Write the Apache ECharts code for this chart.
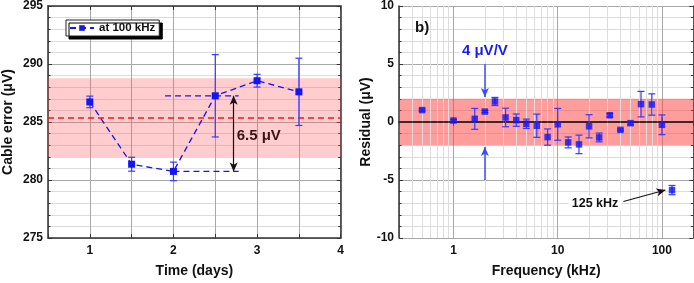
<!DOCTYPE html>
<html><head><meta charset="utf-8">
<script src="https://cdn.jsdelivr.net/npm/echarts@6/dist/echarts.min.js"></script>
<style>html,body{margin:0;padding:0;background:#fff}#c{width:694px;height:283px}</style>
</head><body><div id="c"></div>
<script>
// ---- Panel a: cable error vs time ----
const days = [1, 1.5, 2, 2.5, 3, 3.5];
const cableErr = [286.73, 281.36, 280.74, 287.26, 288.56, 287.6];
const cableErrBar = [0.5, 0.6, 0.8, 3.55, 0.55, 2.9];
const cableMean = 285.38;
const cableBand = [281.98, 288.78];
const upperRef = [[1.9, 287.26], [2.78, 287.26]];
const lowerRef = [[2.0, 280.74], [2.78, 280.74]];
const spanArrow = [[2.72, 287.26], [2.72, 280.74]];
const spanLabel = { text: '6.5 μV', at: [3.02, 283.8] };
const timeTicks = [1, 2, 3, 4];

// ---- Panel b: residual vs frequency ----
const freqKHz = [0.5, 1, 1.6, 2, 2.5, 3.16, 4, 5, 6.3, 8, 10, 12.6, 16, 20, 25, 31.6, 40, 50, 63, 80, 100, 125];
const residual = [1.03, 0.13, 0.27, 0.9, 1.77, 0.39, 0.16, -0.15, -0.32, -1.3, -0.2, -1.76, -1.93, -0.37, -1.33, 0.58, -0.68, -0.1, 1.54, 1.51, -0.24, -5.87];
const residualErr = [0.1, 0.08, 0.9, 0.1, 0.35, 0.8, 0.53, 0.4, 1.0, 0.7, 1.37, 0.47, 0.8, 1.0, 0.38, 0.15, 0.08, 0.15, 1.1, 0.92, 0.85, 0.4];
const residualBand = [-2, 2];
const minorFreqLines = [0.4, 0.5, 0.6, 0.7, 0.8, 0.9, 2, 3, 4, 5, 6, 7, 8, 9, 20, 30, 40, 50, 60, 70, 80, 90];
const bandArrowTop = [[2, 5], [2, 2.15]];
const bandArrowBottom = [[2, -5], [2, -2.15]];
const bandLabel = { text: '4 μV/V', at: [2, 6.1] };
const outlierArrow = [[42.7, -6.86], [108, -5.86]];
const outlierLabel = { text: '125 kHz', at: [22.8, -7.0] };
const panelLabel = { text: 'b)', at: [0.5, 8.1] };

const FONT = 'Liberation Sans, Arial, sans-serif';
const BLUE = '#1414f5';
const BLUE_ERR = '#3838ff';

function errSeries(name, xs, ys, es, xi, yi, color) {
  return {
    name: name, type: 'custom', xAxisIndex: xi, yAxisIndex: yi, z: 5,
    data: xs.map((x, i) => [x, ys[i] - es[i], ys[i] + es[i]]),
    encode: { x: 0, y: [1, 2] },
    renderItem: function (params, api) {
      const x = api.value(0);
      const p1 = api.coord([x, api.value(2)]);
      const p2 = api.coord([x, api.value(1)]);
      const w = 3.5;
      const st = { stroke: color, lineWidth: 1.2 };
      return { type: 'group', children: [
        { type: 'line', shape: { x1: p1[0], y1: p1[1], x2: p2[0], y2: p2[1] }, style: st },
        { type: 'line', shape: { x1: p1[0] - w, y1: p1[1], x2: p1[0] + w, y2: p1[1] }, style: st },
        { type: 'line', shape: { x1: p2[0] - w, y1: p2[1], x2: p2[0] + w, y2: p2[1] }, style: st }
      ] };
    }
  };
}

function textPoint(lbl, opts) {
  return {
    coord: lbl.at, symbol: 'rect', symbolSize: 1, itemStyle: { color: 'rgba(0,0,0,0)' },
    label: Object.assign({ show: true, position: 'inside', formatter: lbl.text, fontFamily: FONT, fontWeight: 'bold' }, opts)
  };
}

const axisLabelStyle = { fontFamily: FONT, fontWeight: 'bold', fontSize: 12, color: '#111' };
const nameStyle = { fontFamily: FONT, fontWeight: 'bold', fontSize: 14, color: '#111' };
const axisLineStyle = { show: true, lineStyle: { color: '#333', width: 1.5 } };

const chart = echarts.init(document.getElementById('c'));
chart.setOption({
  animation: false,
  backgroundColor: '#fff',
  grid: [
    { left: 47.7, top: 5, width: 293, height: 237 },
    { left: 399, top: 5, width: 294.3, height: 237 }
  ],
  legend: {
    data: ['at 100 kHz'], left: 66, top: 20, padding: [2, 4, 2, 3],
    backgroundColor: '#fff', borderColor: '#222', borderWidth: 1,
    shadowColor: '#000', shadowOffsetX: 3, shadowOffsetY: 3, shadowBlur: 0.01,
    itemWidth: 24, itemHeight: 7, itemGap: 4,
    textStyle: { fontFamily: FONT, fontWeight: 'bold', fontSize: 11.5, color: '#111' }
  },
  xAxis: [
    { gridIndex: 0, type: 'value', min: 0.5, max: 4, interval: 0.5,
      name: 'Time (days)', nameLocation: 'middle', nameGap: 26, nameTextStyle: nameStyle,
      axisLine: axisLineStyle, axisTick: { inside: true, length: 4, lineStyle: { color: '#333' } },
      axisLabel: Object.assign({ margin: 7, formatter: v => timeTicks.indexOf(v) >= 0 ? String(v) : '' }, axisLabelStyle),
      splitLine: { show: true, lineStyle: { color: '#a8a8a8', width: 1 } } },
    { gridIndex: 1, type: 'log', logBase: 10, min: 0.3, max: 200,
      name: 'Frequency (kHz)', nameLocation: 'middle', nameGap: 26, nameTextStyle: nameStyle,
      axisLine: axisLineStyle, axisTick: { inside: true, length: 4, lineStyle: { color: '#333' } },
      axisLabel: Object.assign({ margin: 7, showMinLabel: false, showMaxLabel: false }, axisLabelStyle),
      splitLine: { show: true, lineStyle: { color: '#a8a8a8', width: 1 } } },
    { gridIndex: 0, type: 'value', position: 'top', min: 0.5, max: 4, interval: 0.5,
      axisLine: axisLineStyle, axisTick: { inside: true, length: 4, lineStyle: { color: '#333' } },
      axisLabel: { show: false }, splitLine: { show: false } },
    { gridIndex: 1, type: 'log', position: 'top', min: 0.3, max: 200,
      axisLine: axisLineStyle, axisTick: { inside: true, length: 4, lineStyle: { color: '#333' } },
      axisLabel: { show: false }, splitLine: { show: false } }
  ],
  yAxis: [
    { gridIndex: 0, type: 'value', min: 275, max: 295, interval: 5,
      name: 'Cable error (μV)', nameLocation: 'middle', nameGap: 33, nameTextStyle: nameStyle,
      axisLine: axisLineStyle, axisTick: { inside: true, length: 4, lineStyle: { color: '#333' } },
      minorTick: { show: true, splitNumber: 5, length: 2.5, lineStyle: { color: '#333' } },
      minorSplitLine: { show: true, lineStyle: { color: '#dcdcdc', width: 1 } },
      axisLabel: Object.assign({ margin: 5 }, axisLabelStyle),
      splitLine: { show: true, lineStyle: { color: '#a8a8a8', width: 1 } } },
    { gridIndex: 1, type: 'value', min: -10, max: 10, interval: 5,
      name: 'Residual (μV)', nameLocation: 'middle', nameGap: 24, nameTextStyle: nameStyle,
      axisLine: axisLineStyle, axisTick: { inside: true, length: 4, lineStyle: { color: '#333' } },
      minorTick: { show: true, splitNumber: 5, length: 2.5, lineStyle: { color: '#333' } },
      minorSplitLine: { show: true, lineStyle: { color: '#dcdcdc', width: 1 } },
      axisLabel: Object.assign({ margin: 5 }, axisLabelStyle),
      splitLine: { show: true, lineStyle: { color: '#a8a8a8', width: 1 } } },
    { gridIndex: 0, type: 'value', position: 'right', min: 275, max: 295, interval: 5,
      axisLine: axisLineStyle, axisTick: { inside: true, length: 4, lineStyle: { color: '#333' } },
      minorTick: { show: true, splitNumber: 5, length: 2.5, lineStyle: { color: '#333' } },
      axisLabel: { show: false }, splitLine: { show: false } },
    { gridIndex: 1, type: 'value', position: 'right', min: -10, max: 10, interval: 5,
      axisLine: axisLineStyle, axisTick: { inside: true, length: 4, lineStyle: { color: '#333' } },
      minorTick: { show: true, splitNumber: 5, length: 2.5, lineStyle: { color: '#333' } },
      axisLabel: { show: false }, splitLine: { show: false } }
  ],
  series: [
    // --- panel a ---
    { name: 'band-a', type: 'line', xAxisIndex: 0, yAxisIndex: 0, data: [], z: 2, silent: true,
      markArea: { silent: true, itemStyle: { color: 'rgba(255,90,90,0.30)' },
        data: [[{ yAxis: cableBand[0] }, { yAxis: cableBand[1] }]] },
      markLine: { silent: true, symbol: 'none', label: { show: false },
        lineStyle: { color: '#f01818', type: [6, 4], width: 1.6 },
        data: [{ yAxis: cableMean }] } },
    { name: 'ref-up', type: 'line', xAxisIndex: 0, yAxisIndex: 0, data: upperRef, symbol: 'none', z: 3,
      lineStyle: { color: BLUE, type: [6, 4], width: 1.3 }, silent: true },
    { name: 'ref-low', type: 'line', xAxisIndex: 0, yAxisIndex: 0, data: lowerRef, symbol: 'none', z: 3,
      lineStyle: { color: BLUE, type: [6, 4], width: 1.3 }, silent: true },
    { name: 'span', type: 'line', xAxisIndex: 0, yAxisIndex: 0, data: [], z: 6,
      markLine: { silent: true, symbol: ['arrow', 'arrow'], symbolSize: [6, 9], label: { show: false },
        lineStyle: { color: '#1a1010', type: 'solid', width: 1.2 },
        data: [[{ coord: spanArrow[0] }, { coord: spanArrow[1] }]] },
      markPoint: { silent: true, data: [textPoint(spanLabel, { fontSize: 15, color: '#3a1414' })] } },
    errSeries('err-a', days, cableErr, cableErrBar, 0, 0, BLUE_ERR),
    { name: 'at 100 kHz', type: 'line', xAxisIndex: 0, yAxisIndex: 0, z: 7,
      data: days.map((d, i) => [d, cableErr[i]]),
      symbol: 'rect', symbolSize: 7, itemStyle: { color: BLUE },
      lineStyle: { color: BLUE, type: [6, 4], width: 1.3 } },
    // --- panel b ---
    { name: 'minor-b', type: 'line', xAxisIndex: 1, yAxisIndex: 1, data: [], z: 1, silent: true,
      markLine: { silent: true, symbol: 'none', label: { show: false },
        lineStyle: { color: '#dcdcdc', type: 'solid', width: 1 },
        data: minorFreqLines.map(v => ({ xAxis: v })) } },
    { name: 'band-b', type: 'line', xAxisIndex: 1, yAxisIndex: 1, data: [], z: 2, silent: true,
      markArea: { silent: true, itemStyle: { color: 'rgba(255,60,60,0.50)' },
        data: [[{ yAxis: residualBand[0] }, { yAxis: residualBand[1] }]] },
      markLine: { silent: true, symbol: 'none', label: { show: false },
        lineStyle: { color: '#222', type: 'solid', width: 1.5 },
        data: [{ yAxis: 0 }] } },
    { name: 'notes-b', type: 'line', xAxisIndex: 1, yAxisIndex: 1, data: [], z: 6,
      markLine: { silent: true, symbol: ['none', 'arrow'], symbolSize: [6, 9], label: { show: false },
        data: [
          [{ coord: bandArrowTop[0], lineStyle: { color: '#3a4cff', width: 1.5, type: 'solid' } }, { coord: bandArrowTop[1] }],
          [{ coord: bandArrowBottom[0], lineStyle: { color: '#3a4cff', width: 1.5, type: 'solid' } }, { coord: bandArrowBottom[1] }],
          [{ coord: outlierArrow[0], lineStyle: { color: '#111', width: 1.1, type: 'solid' } }, { coord: outlierArrow[1] }]
        ] },
      markPoint: { silent: true, data: [
        textPoint(bandLabel, { fontSize: 15, color: '#1a1aff', backgroundColor: '#fff', padding: [2, 3] }),
        textPoint(outlierLabel, { fontSize: 12.5, color: '#111', backgroundColor: '#fff', padding: [1, 3] }),
        textPoint(panelLabel, { fontSize: 15, color: '#111' })
      ] } },
    errSeries('err-b', freqKHz, residual, residualErr, 1, 1, BLUE_ERR),
    { name: 'residual', type: 'scatter', xAxisIndex: 1, yAxisIndex: 1, z: 7,
      data: freqKHz.map((f, i) => [f, residual[i]]),
      symbol: 'rect', symbolSize: 6.5, itemStyle: { color: BLUE } }
  ]
});
</script></body></html>
